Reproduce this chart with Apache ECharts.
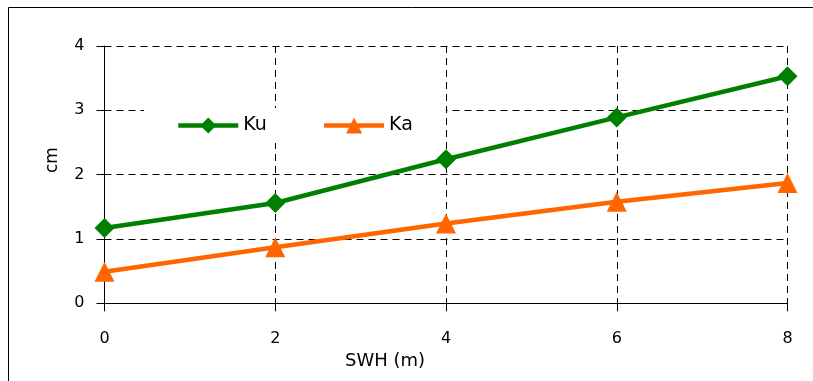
<!DOCTYPE html>
<html>
<head>
<meta charset="utf-8">
<script src="https://cdn.jsdelivr.net/npm/echarts@6/dist/echarts.min.js"></script>
<style>
  html, body { margin: 0; padding: 0; background: #fff; }
  #chart { width: 813px; height: 381px; }
</style>
</head>
<body>
<div id="chart"></div>
<script>
// SWH (m) on x, cm on y
const swh = [0, 2, 4, 6, 8]
const kuValues = [1.17, 1.56, 2.24, 2.89, 3.53]
const kaValues = [0.49, 0.87, 1.24, 1.58, 1.87]
const seriesNames = ['Ku', 'Ka']
const xTicks = { min: 0, max: 8, interval: 2 }
const yTicks = { min: 0, max: 4, interval: 1 }

const font = 'DejaVu Sans'
const toPairs = (xs, ys) => xs.map((x, i) => [x, ys[i]])

const chart = echarts.init(document.getElementById('chart'))
chart.setOption({
  animation: false,
  textStyle: { fontFamily: font, color: '#000' },
  grid: { left: 104.5, right: 25.5, top: 46, bottom: 77.7 },
  // outer frame (cut off at right and bottom)
  graphic: [
    {
      type: 'rect',
      shape: { x: 8.5, y: 7.5, width: 900, height: 500 },
      style: { fill: 'none', stroke: '#000', lineWidth: 1 },
      silent: true
    }
  ],
  legend: {
    data: seriesNames,
    left: 144,
    top: 108,
    padding: [8, 33, 8, 32],
    backgroundColor: '#fff',
    itemGap: 55,
    itemWidth: 60,
    itemHeight: 20,
    lineStyle: { width: 4.5 },
    textStyle: { fontFamily: font, fontSize: 19, color: '#000' }
  },
  xAxis: {
    type: 'value',
    min: xTicks.min,
    max: xTicks.max,
    interval: xTicks.interval,
    name: 'SWH (m)',
    nameLocation: 'middle',
    nameGap: 45,
    nameTextStyle: { fontSize: 18, color: '#000', padding: [0, 122, 0, 0] },
    axisLine: { onZero: false, lineStyle: { color: '#000', width: 1 } },
    axisTick: { show: true, length: 8, lineStyle: { color: '#000' } },
    axisLabel: { margin: 28, fontSize: 16, color: '#000' },
    splitLine: { show: true, lineStyle: { color: '#000', type: [7, 5], width: 1 } }
  },
  yAxis: {
    type: 'value',
    min: yTicks.min,
    max: yTicks.max,
    interval: yTicks.interval,
    name: 'cm',
    nameLocation: 'middle',
    nameGap: 43,
    nameRotate: 90,
    nameTextStyle: { fontSize: 17, color: '#000', padding: [0, 0, 0, 29] },
    axisLine: { show: true, lineStyle: { color: '#000', width: 1 } },
    axisTick: { show: true, length: 8, lineStyle: { color: '#000' } },
    axisLabel: { margin: 20, fontSize: 16, color: '#000' },
    splitLine: { show: true, lineStyle: { color: '#000', type: [7, 5], width: 1 } }
  },
  series: [
    {
      name: seriesNames[0],
      type: 'line',
      data: toPairs(swh, kuValues),
      symbol: 'diamond',
      symbolSize: 20,
      lineStyle: { color: '#008000', width: 4.5 },
      itemStyle: { color: '#008000' }
    },
    {
      name: seriesNames[1],
      type: 'line',
      data: toPairs(swh, kaValues),
      symbol: 'triangle',
      symbolSize: 20,
      lineStyle: { color: '#FF6600', width: 4.5 },
      itemStyle: { color: '#FF6600' }
    }
  ]
})
</script>
</body>
</html>
